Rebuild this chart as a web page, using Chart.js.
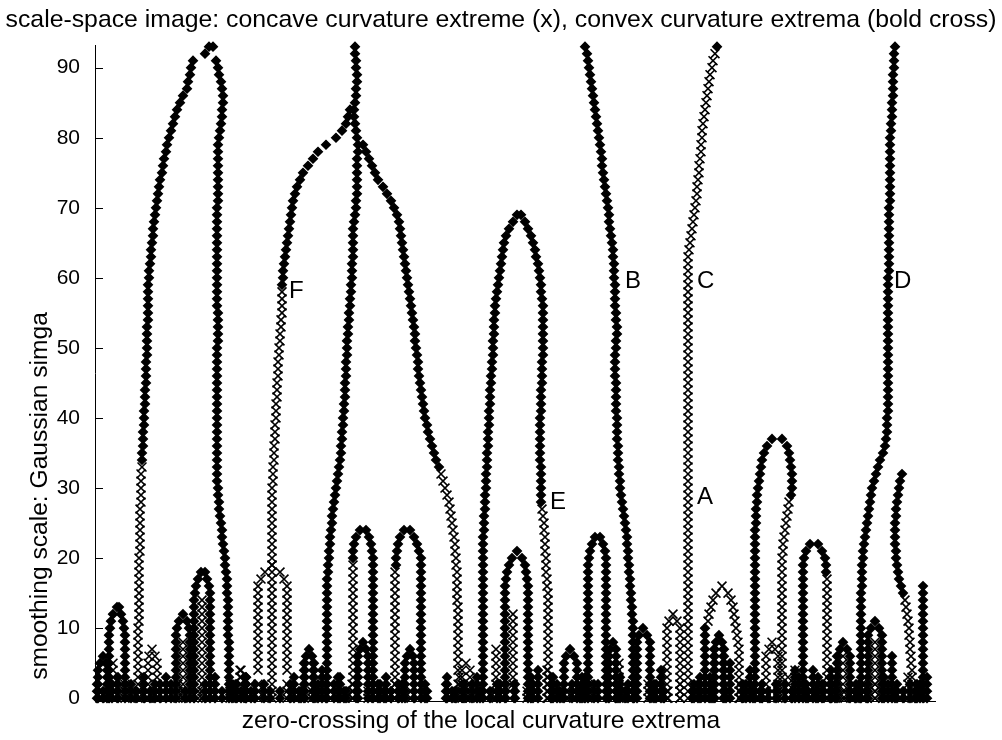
<!DOCTYPE html>
<html><head><meta charset="utf-8">
<script src="https://cdn.jsdelivr.net/npm/chart.js@4.4.1/dist/chart.umd.min.js"></script>
<style>html,body{margin:0;padding:0;background:#fff;}#wrap{width:1002px;height:740px;position:relative;}</style>
</head><body><div id="wrap"><canvas id="c"></canvas></div>
<script>
// ---- texts ----
const titleText = 'scale-space image: concave curvature extreme (x), convex curvature extrema (bold cross)';
const xTitle = 'zero-crossing of the local curvature extrema';
const yTitle = 'smoothing scale: Gaussian simga';
const yTicks = [0,10,20,30,40,50,60,70,80,90];
const letterText = ['F','B','C','D','E','A'];
const letterX = [289, 625, 697, 894, 550, 697];
const letterY = [58, 59.5, 59.5, 59.5, 28, 28.7];

// ---- long branches: x position for each integer sigma, starting at given sigma ----
// convex (bold cross)
const leftArchOuter = [142,142,143,143,143,144,144,144,145,145,145,146,146,146,146,147,147,147,147,147,148,148,148,148,148,148,149,149,150,151,151,152,153,153,154,155,156,157,158,159,160,162,163,164,166,167,169,171,173,175,177,180,183,187,188,190,191,193];
const leftArchInner = [229,229,229,229,229,229,229,229,229,228,228,228,228,228,228,227,227,227,226,225,225,224,223,222,222,221,220,219,219,218,218,217,217,217,217,217,217,217,217,217,217,217,217,217,217,217,217,217,217,217,217,218,218,218,218,218,217,217,217,217,217,217,217,217,217,217,217,217,217,217,217,218,218,218,218,218,218,218,218,218,219,220,221,222,222,223,223,222,221,219,218,216];
const centralStem = [327,327,327,327,327,327,327,327,327,327,327,327,327,327,327,327,327,327,328,328,329,329,330,330,331,332,332,333,334,335,336,337,338,339,340,341,341,342,342,343,343,344,344,345,345,345,346,346,346,347,347,347,348,348,349,349,350,350,351,351,352,352,352,353,353,353,353,353,354,355,356,356,357,357,357,357,357,357,358,358,357,356,355,354,354,355,356,356,357,357,356,356,355,355];
const fUpper = [282,283,283,284,285,286,287,288,289,290,291,292,293,295,297,300,303,308,313,318,326,336,342,346,348,350];
const hRightUpper = [439,436,434,432,430,428,427,425,424,423,422,421,420,419,418,418,417,416,415,415,414,413,412,411,410,409,408,407,406,405,404,403,402,401,400,399,397,394,391,387,383,378,375,372,369,366,363];
const eLeft = [483,483,483,483,483,483,483,483,483,483,483,483,483,483,483,483,483,483,483,483,483,483,483,483,484,484,484,485,485,485,486,486,486,487,487,487,488,488,488,489,489,489,490,490,490,491,491,492,492,493,493,493,494,494,494,495,495,496,497,498,499,500,501,502,503,504,506,509,513];
const eRightUpper = [541,541,541,541,541,541,540,540,540,540,540,540,540,541,541,541,541,542,542,542,542,543,543,543,543,543,543,543,543,542,541,541,540,539,538,536,535,533,531,528,525];
const bLine = [633,633,633,633,633,633,633,633,633,633,633,633,632,632,631,631,630,630,629,629,628,628,627,627,626,625,624,623,622,621,620,620,619,619,618,618,618,617,617,617,617,616,616,616,616,616,615,615,615,615,616,616,617,617,616,616,615,615,615,615,614,614,614,613,613,612,611,610,609,609,608,607,606,605,604,603,602,602,601,600,599,598,597,596,595,594,593,592,591,590,589,588,587,585];
const dLine = [861,861,861,861,861,861,861,861,861,861,861,861,861,861,861,861,862,862,862,862,863,863,864,865,866,867,868,869,870,871,872,874,876,878,880,883,885,886,887,887,887,888,888,888,888,888,888,888,888,888,888,888,888,888,888,888,888,888,888,888,888,889,889,889,889,889,889,889,889,889,889,890,890,890,890,890,890,890,890,890,890,891,891,892,892,892,893,893,893,893,894,894,894,895];
const shortRightUpper = [903,901,899,898,897,896,896,895,895,895,895,896,896,897,898,899,900,902];
const arch37Left = [755,755,755,755,755,755,755,755,755,755,755,755,755,755,755,755,755,755,755,755,755,755,755,755,755,756,756,756,757,757,758,759,760,761,762,764,767];
const arch37RightUpper = [791,792,792,792,791,790,789,787];
// concave (x)
const leftArchOuterLower = [138,138,138,138,138,138,138,138,138,138,138,139,139,139,139,139,139,139,139,139,139,140,140,140,140,140,140,140,141,141,141,141,141,142];
const fLower = [272,272,272,272,272,272,272,272,272,272,272,272,272,272,272,272,272,272,272,272,272,272,272,272,272,272,272,272,272,272,272,273,273,273,274,274,274,275,275,275,276,276,276,277,277,277,278,278,278,279,279,280,280,281,281,282,282,282,282];
const hRightLower = [459,459,459,459,458,458,458,458,458,458,458,458,458,458,457,457,457,457,457,456,456,455,455,454,453,452,451,450,449,447,445,443,441];
const eRightLower = [548,548,548,548,548,548,548,548,548,548,548,548,548,548,548,548,547,547,546,546,546,545,545,545,544,544,543,542];
const cLine = [688,688,688,688,688,688,688,688,688,688,688,688,688,688,688,688,688,688,688,688,688,688,688,688,688,688,688,688,688,688,688,688,688,688,688,688,688,688,688,688,688,688,688,688,688,688,688,688,688,688,688,688,688,688,688,688,688,688,688,688,688,688,688,688,689,690,691,692,693,694,695,696,697,697,698,699,699,700,701,701,702,702,703,704,705,706,707,708,709,710,712,713,715];
const arch37RightLower = [782,782,782,782,782,782,782,782,782,782,782,782,782,782,782,782,782,782,782,782,782,783,783,784,785,786,787,788,789];
const shortRightLower = [912,912,912,912,912,911,911,910,910,909,909,908,907,906,905];

// ---- short vertical runs [x, fromSigma, toSigma] and single marks [x, sigma] ----
const convexStubs = [
 [98,0,4],[107,0,4],
 [109,0,9],[110,10,10],[111,11,11],[113,12,12],[121,12,12],[123,11,11],[124,10,10],[125,0,9],
 [176,0,9],[177,10,10],[179,11,11],[187,11,11],[189,10,10],[190,0,9],
 [194,0,14],[195,15,15],[196,16,16],[198,17,17],[207,17,17],[209,16,16],[210,0,15],
 [246,0,3],[304,0,5],[314,0,5],
 [353,20,21],[354,22,22],[356,23,23],[369,23,23],[371,22,22],[372,21,21],[373,0,20],
 [358,0,6],[368,0,6],
 [396,19,20],[397,21,21],[398,22,22],[400,23,23],[414,23,23],[417,22,22],[419,21,21],[421,0,20],
 [405,0,5],[414,0,5],
 [505,0,16],[506,17,17],[507,18,18],[509,19,19],[512,20,20],[522,20,20],[525,19,19],[526,18,18],[527,17,17],[528,0,16],
 [564,0,5],[577,0,5],
 [588,0,19],[589,20,20],[590,21,21],[592,22,22],[603,22,22],[605,21,21],[606,0,20],
 [609,0,6],[616,0,6],[637,0,8],[650,0,8],
 [705,0,10],[714,0,7],[724,0,7],[730,0,5],
 [795,0,4],[813,0,4],
 [803,0,19],[804,20,20],[806,21,21],[822,21,21],[825,20,20],[826,18,19],
 [837,0,6],[850,0,6],[868,0,9],[882,0,9],[892,0,6],[923,0,16]
];
const convexPoints = [
 [100,5],[103,6],[106,5],[117,13],[119,13],[183,12],[201,18],[205,18],
 [205,92],[209,93],[213,93],[306,6],[309,7],[312,6],[360,24],[366,24],
 [360,7],[363,8],[366,7],[404,24],[410,24],[407,6],[410,7],[413,6],
 [517,69],[521,69],[517,21],[566,6],[570,7],[574,6],[595,23],[600,23],
 [610,7],[613,8],[616,7],[639,9],[643,10],[647,9],[717,93],[772,37],[782,37],
 [716,8],[719,9],[722,8],[810,22],[818,22],[840,7],[843,8],[847,7],
 [871,10],[875,11],[879,10]
];
const concaveStubs = [
 [113,0,5],[148,0,5],[157,0,5],[183,0,8],[202,0,14],
 [258,4,16],[261,17,17],[265,18,18],[280,18,18],[284,17,17],[287,4,16],
 [240,0,4],[309,0,5],[353,0,19],[395,0,18],[462,0,4],[470,0,4],[496,0,7],[513,2,12],
 [619,0,5],[667,0,10],[680,0,10],
 [708,11,11],[709,12,12],[711,13,13],[713,14,14],
 [731,14,14],[733,13,13],[734,12,12],[735,11,11],[736,10,10],[737,9,9],[738,8,8],[739,0,7],
 [719,0,7],[766,0,6],[778,0,6],[827,0,17],[843,0,6],[875,0,8]
];
const concavePoints = [
 [149,6],[152,7],[155,6],[272,19],[466,5],[669,11],[673,12],[677,11],
 [716,15],[722,16],[728,15],[769,7],[772,8],[775,7]
];
// fine-scale zero crossings along the bottom: x and top sigma
const baseConvexX = [97,103,112,118,131,136,144,160,166,171,185,205,215,222,236,246,251,264,280,294,299,318,322,334,340,346,380,386,391,402,425,447,452,472,477,490,497,515,533,538,553,557,582,594,620,625,656,661,694,700,712,746,750,760,776,799,808,818,822,831,856,867,884,897,903,917,927];
const baseConvexTop = [2,1,2,3,2,1,3,2,3,2,1,2,3,1,2,3,1,2,1,3,1,2,4,2,3,1,2,3,1,2,2,3,1,2,3,1,2,2,2,4,3,2,3,2,3,1,2,4,2,3,1,2,4,1,2,3,1,3,2,4,2,1,3,2,1,2,3];
const baseConvexX2 = [150,155,232,241,255,270,290,301,326,338,344,378,384,398,427,446,456,464,480,500,531,551,560,572,580,585,598,618,628,634,654,664,692,698,710,726,742,753,762,768,785,792,806,816,830,835,855,860,888,895,910,915,920];
const baseConvexTop2 = [1,2,2,1,2,1,2,1,2,3,1,2,1,2,1,2,1,2,1,2,3,2,1,2,1,3,2,1,2,1,2,1,1,2,3,1,2,1,2,1,2,1,2,1,3,2,1,2,2,1,2,1,2];
const baseConcaveX = [100,125,141,178,198,230,241,258,287,312,352,368,395,411,458,466,510,527,547,566,588,612,630,648,668,680,705,740,766,788,795,828,845,862,875,908,920];
const baseConcaveTop = [1,2,1,2,1,2,4,2,2,1,2,1,2,1,2,1,2,1,4,1,2,5,1,2,1,2,1,2,1,3,4,2,1,2,2,3,1];

const convexBranches = [[leftArchOuter,34],[leftArchInner,0],[centralStem,0],[fUpper,59],[hRightUpper,33],[eLeft,0],[eRightUpper,28],[bLine,0],[dLine,0],[shortRightUpper,15],[arch37Left,0],[arch37RightUpper,29]];
const concaveBranches = [[leftArchOuterLower,0],[fLower,0],[hRightLower,0],[eRightLower,0],[cLine,0],[arch37RightLower,0],[shortRightLower,0]];

function collect(branches, stubs, singles, bases) {
  const pts = [];
  branches.forEach(([xs, s0]) => xs.forEach((x, i) => pts.push({x, y: s0 + i})));
  stubs.forEach(([x, a, b]) => { for (let s = a; s <= b; s++) pts.push({x, y: s}); });
  singles.forEach(([x, y]) => pts.push({x, y}));
  bases.forEach(([bx, bt]) => bx.forEach((x, i) => { for (let s = 0; s <= bt[i]; s++) pts.push({x, y: s}); }));
  return pts;
}
const concaveData = collect(concaveBranches, concaveStubs, concavePoints, [[baseConcaveX, baseConcaveTop]]);
const convexData = collect(convexBranches, convexStubs, convexPoints, [[baseConvexX, baseConvexTop], [baseConvexX2, baseConvexTop2]]);

const FONT = '"Liberation Sans", Arial, Helvetica, sans-serif';

const decor = {
  id: 'decor',
  afterDraw(chart) {
    const {ctx, chartArea, scales: {x, y}} = chart;
    ctx.save();
    ctx.strokeStyle = '#000'; ctx.lineWidth = 1;
    yTicks.forEach(v => {
      const py = Math.round(y.getPixelForValue(v)) + 0.5;
      ctx.beginPath(); ctx.moveTo(chartArea.left, py); ctx.lineTo(chartArea.left + 8, py); ctx.stroke();
    });
    ctx.fillStyle = '#000';
    ctx.font = '24px ' + FONT;
    ctx.textBaseline = 'middle'; ctx.textAlign = 'left';
    letterText.forEach((t, i) => ctx.fillText(t, x.getPixelForValue(letterX[i]), y.getPixelForValue(letterY[i])));
    ctx.font = '24.6px ' + FONT;
    ctx.textAlign = 'center';
    ctx.fillText(xTitle, 481, 721);
    ctx.translate(40, 496); ctx.rotate(-Math.PI / 2);
    ctx.fillText(yTitle, 0, 0);
    ctx.restore();
  }
};

new Chart(document.getElementById('c'), {
  type: 'scatter',
  data: {
    datasets: [
      { label: 'concave', data: concaveData, pointStyle: 'crossRot', pointRadius: 6.3, borderColor: '#000', backgroundColor: '#000', pointBorderWidth: 1.6, clip: false },
      { label: 'convex', data: convexData, pointStyle: 'rectRot', pointRadius: 4.3, borderColor: '#000', backgroundColor: '#000', pointBorderWidth: 1.5, clip: false }
    ]
  },
  options: {
    responsive: true, maintainAspectRatio: false, animation: false, devicePixelRatio: 1,
    layout: { padding: 0 },
    plugins: {
      legend: { display: false }, tooltip: { enabled: false },
      title: { display: true, text: titleText, color: '#000', font: { family: FONT, size: 24.8, weight: 'normal' }, padding: { top: 5, bottom: 10.5 } }
    },
    scales: {
      x: { type: 'linear', min: 95, max: 935, grid: { display: false, drawTicks: false }, border: { display: true, color: '#000', width: 1 }, ticks: { display: false }, afterFit: s => { s.height = 39; } },
      y: { type: 'linear', min: -0.4, max: 93.2, afterBuildTicks: s => { s.ticks = yTicks.map(v => ({value: v})); },
           grid: { display: false, drawTicks: false }, border: { display: true, color: '#000', width: 1 },
           ticks: { color: '#000', padding: 15, font: { family: FONT, size: 21 } }, afterFit: s => { s.width = 95; } },
      y2: { type: 'linear', position: 'right', display: true, grid: { display: false, drawTicks: false }, border: { display: false }, ticks: { display: false }, afterFit: s => { s.width = 67; } }
    }
  },
  plugins: [decor]
});
</script></body></html>
